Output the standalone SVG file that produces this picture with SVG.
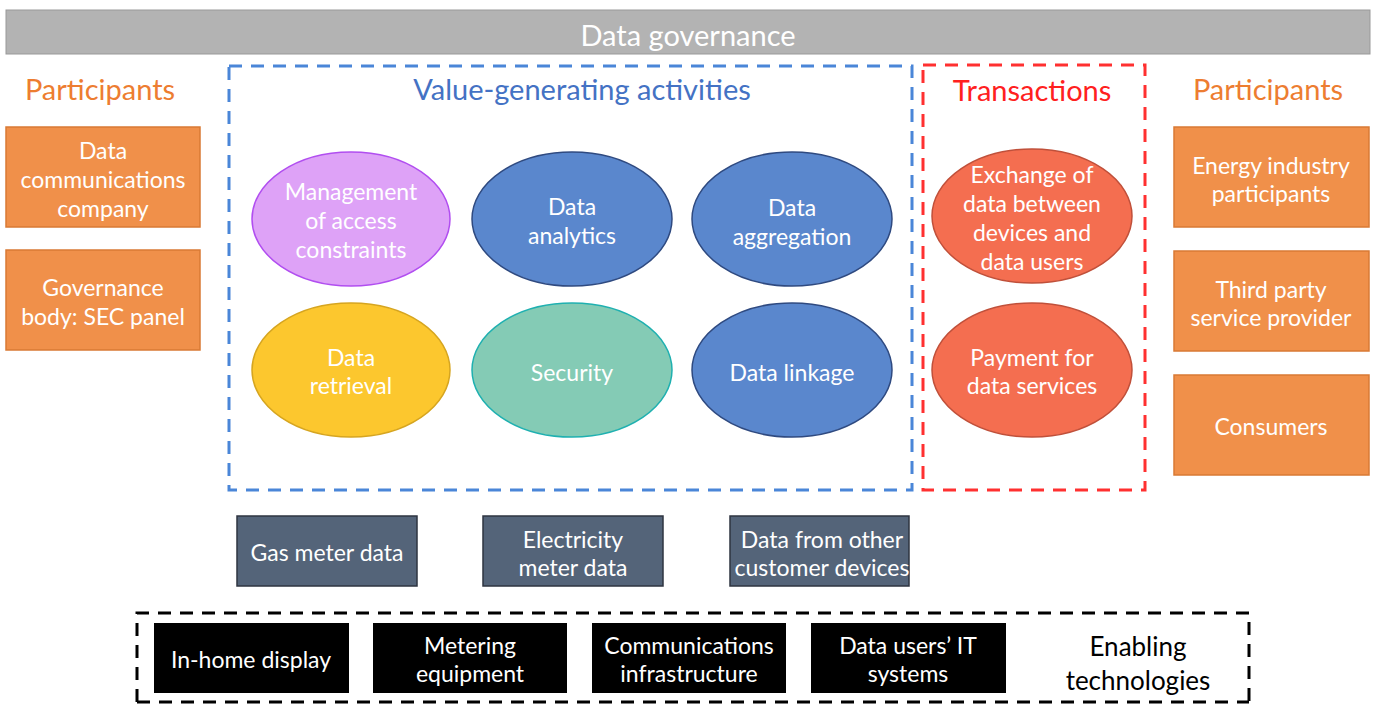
<svg xmlns="http://www.w3.org/2000/svg" width="1375" height="704" viewBox="0 0 1375 704">
<style>
text{font-family:Lato,"Open Sans","Liberation Sans",sans-serif;text-anchor:middle}
.w{fill:#fff;font-size:23px}
.h{font-size:29px}
.org{fill:#f0904a;stroke:#d97a35;stroke-width:1.5}
.gry{fill:#546479;stroke:#2e3440;stroke-width:1.5}
.blk{fill:#000}
.blue{fill:#5a87cd;stroke:#2f4a80;stroke-width:1.5}
.red{fill:#f46e50;stroke:#c0503a;stroke-width:1.5}
</style>
<rect width="1375" height="704" fill="#fff"/>
<g id="governance">
<rect x="6" y="10" width="1364" height="44" fill="#b3b3b3" stroke="#999" stroke-width="1"/>
<text x="688" y="46" class="h" fill="#fff">Data governance</text>
</g>
<g id="value-frame">
<rect x="229" y="66" width="683" height="424" fill="none" stroke="#4a86d8" stroke-width="3" stroke-dasharray="13 9"/>
<text x="582" y="100" class="h" fill="#4472c4">Value-generating activities</text>
</g>
<g id="transactions-frame">
<rect x="923" y="65" width="222" height="425" fill="none" stroke="#ff3030" stroke-width="3" stroke-dasharray="13 9"/>
<text x="1032" y="101" class="h" fill="#ff2020">Transactions</text>
</g>
<g id="participants-left">
<text x="100" y="100" class="h" fill="#ed7d31">Participants</text>
</g>
<g id="participants-right">
<text x="1268" y="100" class="h" fill="#ed7d31">Participants</text>
</g>
<g id="dcc">
<rect x="6" y="127" width="194" height="100" class="org"/>
<text class="w" x="103" y="159">Data</text>
<text class="w" x="103" y="188">communications</text>
<text class="w" x="103" y="217">company</text>
</g>
<g id="sec-panel">
<rect x="6" y="250" width="194" height="100" class="org"/>
<text class="w" x="103" y="296">Governance</text>
<text class="w" x="103" y="325">body: SEC panel</text>
</g>
<g id="energy">
<rect x="1174" y="127" width="195" height="100" class="org"/>
<text class="w" x="1271" y="174">Energy industry</text>
<text class="w" x="1271" y="202">participants</text>
</g>
<g id="third-party">
<rect x="1174" y="251" width="195" height="100" class="org"/>
<text class="w" x="1271" y="298">Third party</text>
<text class="w" x="1271" y="326">service provider</text>
</g>
<g id="consumers">
<rect x="1174" y="375" width="195" height="100" class="org"/>
<text class="w" x="1271" y="435">Consumers</text>
</g>
<g id="access">
<ellipse cx="351" cy="219" rx="99" ry="67" fill="#dea2f7" stroke="#b14ef0" stroke-width="1.5"/>
<text class="w" x="351" y="200">Management</text>
<text class="w" x="351" y="229">of access</text>
<text class="w" x="351" y="258">constraints</text>
</g>
<g id="analytics">
<ellipse cx="572" cy="219" rx="100" ry="67" class="blue"/>
<text class="w" x="572" y="215">Data</text>
<text class="w" x="572" y="244">analytics</text>
</g>
<g id="aggregation">
<ellipse cx="792" cy="219" rx="100" ry="67" class="blue"/>
<text class="w" x="792" y="216">Data</text>
<text class="w" x="792" y="245">aggregation</text>
</g>
<g id="retrieval">
<ellipse cx="351" cy="370" rx="99" ry="67" fill="#fcc72e" stroke="#d6a520" stroke-width="1.5"/>
<text class="w" x="351" y="366">Data</text>
<text class="w" x="351" y="394">retrieval</text>
</g>
<g id="security">
<ellipse cx="572" cy="370" rx="100" ry="67" fill="#84cbb5" stroke="#1fb0b0" stroke-width="1.5"/>
<text class="w" x="572" y="381">Security</text>
</g>
<g id="linkage">
<ellipse cx="792" cy="370" rx="100" ry="67" class="blue"/>
<text class="w" x="792" y="381">Data linkage</text>
</g>
<g id="exchange">
<ellipse cx="1032" cy="216" rx="100" ry="67" class="red"/>
<text class="w" x="1032" y="183">Exchange of</text>
<text class="w" x="1032" y="212">data between</text>
<text class="w" x="1032" y="241">devices and</text>
<text class="w" x="1032" y="270">data users</text>
</g>
<g id="payment">
<ellipse cx="1032" cy="370" rx="100" ry="67" class="red"/>
<text class="w" x="1032" y="366">Payment for</text>
<text class="w" x="1032" y="394">data services</text>
</g>
<g id="gas">
<rect x="237" y="516" width="180" height="70" class="gry"/>
<text class="w" x="327" y="561">Gas meter data</text>
</g>
<g id="electricity">
<rect x="483" y="516" width="180" height="70" class="gry"/>
<text class="w" x="573" y="548">Electricity</text>
<text class="w" x="573" y="576">meter data</text>
</g>
<g id="other-devices">
<rect x="730" y="516" width="179" height="70" class="gry"/>
<text class="w" x="822" y="548">Data from other</text>
<text class="w" x="822" y="576">customer devices</text>
</g>
<g id="enabling-frame">
<path d="M137 702 V613 H1249 V702" fill="none" stroke="#000" stroke-width="3" stroke-dasharray="13 9"/>
<line x1="137" y1="702" x2="1249" y2="702" stroke="#000" stroke-width="3" stroke-dasharray="13 9"/>
<text x="1138" y="656" font-size="26" fill="#000">Enabling</text>
<text x="1138" y="690" font-size="26" fill="#000">technologies</text>
</g>
<g id="in-home">
<rect x="154" y="623" width="195" height="70" class="blk"/>
<text class="w" x="251" y="668">In-home display</text>
</g>
<g id="metering">
<rect x="373" y="623" width="194" height="70" class="blk"/>
<text class="w" x="470" y="654">Metering</text>
<text class="w" x="470" y="682">equipment</text>
</g>
<g id="comms">
<rect x="592" y="623" width="194" height="70" class="blk"/>
<text class="w" x="689" y="654">Communications</text>
<text class="w" x="689" y="682">infrastructure</text>
</g>
<g id="it-systems">
<rect x="811" y="623" width="195" height="70" class="blk"/>
<text class="w" x="908" y="654">Data users’ IT</text>
<text class="w" x="908" y="682">systems</text>
</g>
<g id="connectors"></g>
</svg>
